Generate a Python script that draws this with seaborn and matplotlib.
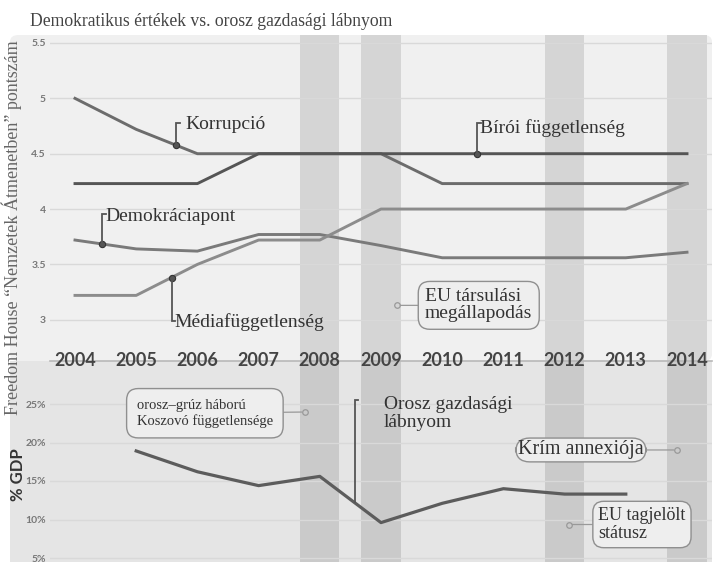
import matplotlib
matplotlib.use("Agg")
import matplotlib.pyplot as plt
import matplotlib.transforms as mtransforms
from matplotlib.patches import FancyBboxPatch, Rectangle
import seaborn as sns
import pandas as pd

# ---------------- data ----------------
years = [2004, 2005, 2006, 2007, 2008, 2009, 2010, 2011, 2012, 2013, 2014]
korrupcio = [5.0, 4.72, 4.5, 4.5, 4.5, 4.5, 4.23, 4.23, 4.23, 4.23, 4.23]
biroi = [4.23, 4.23, 4.23, 4.5, 4.5, 4.5, 4.5, 4.5, 4.5, 4.5, 4.5]
demokracia = [3.72, 3.64, 3.62, 3.77, 3.77, 3.67, 3.56, 3.56, 3.56, 3.56, 3.61]
media = [3.22, 3.22, 3.5, 3.72, 3.72, 4.0, 4.0, 4.0, 4.0, 4.0, 4.23]
series_names = ["Korrupció", "Bírói függetlenség", "Demokráciapont", "Médiafüggetlenség"]

gdp_years = [2005, 2006, 2007, 2008, 2009, 2010, 2011, 2012, 2013]
gdp = [18.9, 16.2, 14.4, 15.6, 9.6, 12.1, 14.0, 13.3, 13.3]

band_years = [2008, 2009, 2012, 2014]
top_ticks = [3, 3.5, 4, 4.5, 5, 5.5]
top_ticklabels = ["3", "3.5", "4", "4.5", "5", "5.5"]
bot_ticks = [5, 10, 15, 20, 25]
bot_ticklabels = ["5%", "10%", "15%", "20%", "25%"]

title = "Demokratikus értékek vs. orosz gazdasági lábnyom"
ylabel_top = "Freedom House \u201cNemzetek Átmenetben\u201d pontszám"
ylabel_bot = "% GDP"

# ---------------- figure ----------------
W, H = 719, 562
fig = plt.figure(figsize=(W / 100, H / 100), dpi=100)
fig.patch.set_facecolor("white")

def fx(px):
    return px / W

def fy(py):
    return 1 - py / H

# panel backgrounds
fig.patches.append(FancyBboxPatch((fx(10), fy(361)), fx(712) - fx(10), fy(35) - fy(361),
                                  boxstyle="round,pad=0,rounding_size=0.012",
                                  transform=fig.transFigure, fc="#f0f0f0", ec="none", zorder=-10))
fig.patches.append(Rectangle((fx(10), 0), fx(712) - fx(10), fy(361),
                             transform=fig.transFigure, fc="#e5e5e5", ec="none", zorder=-10))

ax_top = fig.add_axes([fx(50), fy(361), fx(712) - fx(50), fy(35) - fy(361)])
ax_bot = fig.add_axes([fx(50), 0, fx(712) - fx(50), fy(361)])
ax_top.set_zorder(2)
ax_bot.set_zorder(1)
xlim = (2004 + (50 - 75) / 61.2, 2004 + (712 - 75) / 61.2)

for ax in (ax_top, ax_bot):
    ax.set_facecolor("none")
    ax.set_xlim(*xlim)
    for s in ax.spines.values():
        s.set_visible(False)
    ax.yaxis.grid(True, color="#d9d9d9", lw=1)
    ax.set_axisbelow(True)
    ax.tick_params(axis="y", length=0, pad=3, labelsize=7.5, labelcolor="#777777")

# shaded bands
for by in band_years:
    ax_top.axvspan(by - 0.32, by + 0.32, color="#d5d5d5", lw=0, zorder=0.5)
    ax_bot.axvspan(by - 0.32, by + 0.32, color="#cacaca", lw=0, zorder=0.5)

# top lines
df_top = pd.DataFrame({
    "year": years * 4,
    "value": korrupcio + biroi + demokracia + media,
    "series": [s for s in series_names for _ in years],
})
palette = {"Korrupció": "#6c6c6c", "Bírói függetlenség": "#555555",
           "Demokráciapont": "#7a7a7a", "Médiafüggetlenség": "#8c8c8c"}
sns.lineplot(data=df_top, x="year", y="value", hue="series", palette=palette,
             linewidth=2.1, legend=False, ax=ax_top, zorder=3, sort=False)

df_bot = pd.DataFrame({"year": gdp_years, "gdp": gdp})
sns.lineplot(data=df_bot, x="year", y="gdp", color="#5c5c5c", linewidth=2.3,
             legend=False, ax=ax_bot, zorder=3)

ax_top.set_ylim(5.5 - (361 - 43) / 110.7, 5.5 + (43 - 35) / 110.7)
ax_bot.set_ylim(25 - (562 - 404) / 7.7, 25 + (404 - 361) / 7.7)
ax_top.set_yticks(top_ticks, top_ticklabels)
ax_bot.set_yticks(bot_ticks, bot_ticklabels)
for ax in (ax_top, ax_bot):
    ax.set_xlabel("")
    ax.set_ylabel("")
    ax.set_xticks([])
    ax.set_xlim(*xlim)
    for t in ax.get_yticklabels():
        t.set_fontfamily("Lato")
        t.set_fontweight("bold")

# boundary line and year labels
ax_top.plot([0, 1], [0, 0], transform=ax_top.transAxes, color="#b8b8b8", lw=1.2,
            clip_on=False, zorder=4)
trans = mtransforms.blended_transform_factory(ax_top.transData, ax_top.transAxes)
for yr in years:
    ax_top.text(yr, 0, str(yr), transform=trans, ha="center", va="center",
                fontsize=13, fontweight="bold", family="Lato", color="#444444",
                zorder=6, clip_on=False)

serif = "Liberation Serif"
txt_col = "#333333"

# hook-style annotations
def hook(ax, x, y, y_end, label, tx, ty, marker=True):
    if marker:
        ax.plot([x], [y], marker="o", ms=4.5, mfc="#555555", mec="#333333", mew=0.8, zorder=5)
    ax.plot([x, x, x + 0.06], [y, y_end, y_end], color="#555555", lw=1.3, zorder=5,
            solid_joinstyle="miter")
    ax.text(tx, ty, label, ha="left", va="baseline", family=serif, fontsize=14,
            color=txt_col, zorder=6)

hook(ax_top, 2005.65, 4.58, 4.775, "Korrupció", 2005.80, 4.72)
hook(ax_top, 2010.57, 4.5, 4.78, "Bírói függetlenség", 2010.62, 4.687)
hook(ax_top, 2004.44, 3.685, 3.955, "Demokráciapont", 2004.50, 3.89)
hook(ax_top, 2005.58, 3.38, 2.99, "Médiafüggetlenség", 2005.63, 2.93)
hook(ax_bot, 2008.57, 12.3, 25.5, "", 2009.05, 24.6, marker=False)
ax_bot.text(2009.05, 23.8, "Orosz gazdasági\nlábnyom", ha="left", va="center",
            family=serif, fontsize=14, color=txt_col, linespacing=1.08, zorder=6)

# boxed annotations
def boxed(ax, xy, xytext, label, fs, pad, ls=1.1, rs=0.6):
    ax.plot([xy[0]], [xy[1]], marker="o", ms=4, mfc="none", mec="#999999", mew=0.9, zorder=5)
    ax.annotate(label, xy=xy, xytext=xytext, ha="left", va="center", family=serif,
                fontsize=fs, color=txt_col, linespacing=ls, zorder=6,
                bbox=dict(boxstyle=f"round,pad={pad},rounding_size={rs}", fc="#eeeeee",
                          ec="#8f8f8f", lw=1),
                arrowprops=dict(arrowstyle="-", color="#999999", lw=0.9,
                                shrinkA=0, shrinkB=2.5))

boxed(ax_top, (2009.26, 3.13), (2009.72, 3.13), "EU társulási\nmegállapodás", 14, 0.35, 1.02)
boxed(ax_bot, (2007.76, 23.96), (2005.01, 23.8), "orosz\u2013grúz háború\nKoszovó függetlensége",
      10.5, 0.7, 1.2, 0.8)
boxed(ax_bot, (2013.84, 19.03), (2011.24, 19.03), "Krím annexiója", 14.5, 0.12, 1.1, 0.7)
boxed(ax_bot, (2012.07, 9.35), (2012.55, 9.35), "EU tagjelölt\nstátusz", 13, 0.3, 1.12)

# titles and labels
fig.text(fx(30), fy(21), title, ha="left", va="center", family=serif, fontsize=12.7,
         color="#444444")
fig.text(fx(12), fy(228), ylabel_top, rotation=90, ha="center", va="center", family=serif,
         fontsize=13, color="#666666")
fig.text(fx(18), fy(475), ylabel_bot, rotation=90, ha="center", va="center", family="Lato",
         fontweight="bold", fontsize=12, color="#333333")

fig.savefig("out.png", dpi=100)
